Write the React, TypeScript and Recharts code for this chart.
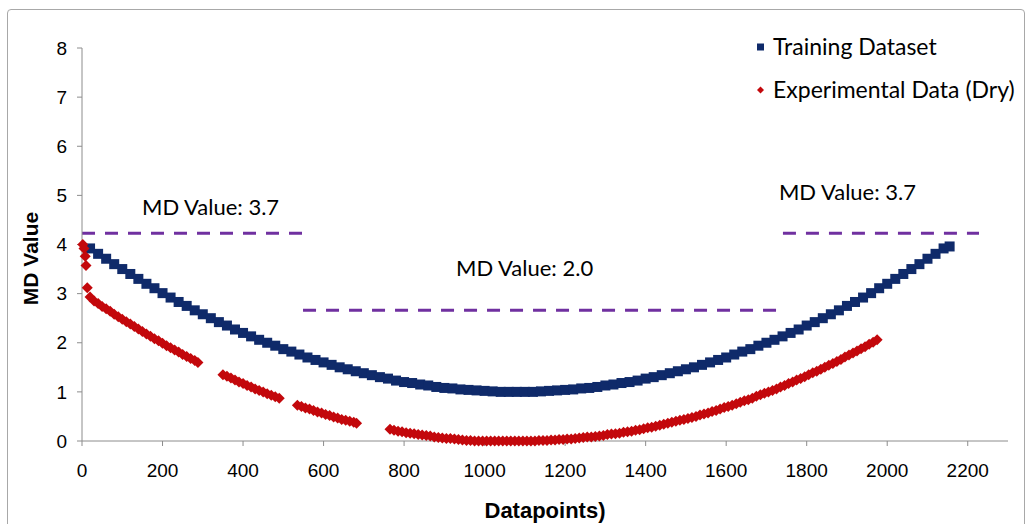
import { ScatterChart, Scatter, XAxis, YAxis, ReferenceLine } from "recharts"

const NAVY = "#0f2a6a"
const RED = "#c3080c"
const PURPLE = "#7030a0"
const AXIS = "#8c8c8c"

const xTicks = [0, 200, 400, 600, 800, 1000, 1200, 1400, 1600, 1800, 2000, 2200]
const yTicks = [0, 1, 2, 3, 4, 5, 6, 7, 8]

// Training Dataset, [datapoint, MD value]
const trainingPoints: [number, number][] = [
  [20, 3.92], [40, 3.81], [60, 3.71], [80, 3.6], [100, 3.5], [120, 3.4], [140, 3.3], [160, 3.2],
  [180, 3.11], [200, 3.01], [220, 2.92], [240, 2.83], [260, 2.75], [280, 2.66], [300, 2.58],
  [320, 2.5], [340, 2.42], [360, 2.35], [380, 2.27], [400, 2.2], [420, 2.13], [440, 2.06],
  [460, 2.0], [480, 1.94], [500, 1.87], [520, 1.82], [540, 1.76], [560, 1.7], [580, 1.65],
  [600, 1.6], [620, 1.55], [640, 1.5], [660, 1.46], [680, 1.42], [700, 1.38], [720, 1.34],
  [740, 1.3], [760, 1.27], [780, 1.23], [800, 1.2], [820, 1.18], [840, 1.15], [860, 1.13],
  [880, 1.1], [900, 1.08], [920, 1.07], [940, 1.05], [960, 1.04], [980, 1.03], [1000, 1.02],
  [1020, 1.01], [1040, 1.0], [1060, 1.0], [1080, 1.0], [1100, 1.0], [1120, 1.0], [1140, 1.01],
  [1160, 1.02], [1180, 1.03], [1200, 1.04], [1220, 1.05], [1240, 1.07], [1260, 1.08],
  [1280, 1.1], [1300, 1.13], [1320, 1.15], [1340, 1.18], [1360, 1.2], [1380, 1.23], [1400, 1.27],
  [1420, 1.3], [1440, 1.34], [1460, 1.38], [1480, 1.42], [1500, 1.46], [1520, 1.5], [1540, 1.55],
  [1560, 1.6], [1580, 1.65], [1600, 1.7], [1620, 1.76], [1640, 1.82], [1660, 1.87], [1680, 1.94],
  [1700, 2.0], [1720, 2.06], [1740, 2.13], [1760, 2.2], [1780, 2.27], [1800, 2.35], [1820, 2.42],
  [1840, 2.5], [1860, 2.58], [1880, 2.66], [1900, 2.75], [1920, 2.83], [1940, 2.92], [1960, 3.01],
  [1980, 3.11], [2000, 3.2], [2020, 3.3], [2040, 3.4], [2060, 3.5], [2080, 3.6], [2100, 3.71],
  [2120, 3.81], [2140, 3.92], [2155, 3.96],
]

// Experimental Data (Dry)
const experimentalPoints: [number, number][] = [
  [2, 4.0], [5, 3.92], [8, 3.76], [10, 3.57], [13, 3.12], [20, 2.93],
  [30, 2.85], [40, 2.8], [50, 2.74], [60, 2.69], [70, 2.64], [80, 2.58], [90, 2.53], [100, 2.48],
  [110, 2.43], [120, 2.38], [130, 2.33], [140, 2.28], [150, 2.23], [160, 2.18], [170, 2.13],
  [180, 2.08], [190, 2.04], [200, 1.99], [210, 1.94], [220, 1.9], [230, 1.85], [240, 1.81],
  [250, 1.76], [260, 1.72], [270, 1.68], [280, 1.64], [288, 1.6],
  [350, 1.35], [360, 1.32], [370, 1.28], [380, 1.24], [390, 1.2], [400, 1.17], [410, 1.13],
  [420, 1.1], [430, 1.06], [440, 1.03], [450, 1.0], [460, 0.96], [470, 0.93], [480, 0.9], [490, 0.87],
  [535, 0.73], [545, 0.7], [555, 0.67], [565, 0.65], [575, 0.62], [585, 0.59], [595, 0.57],
  [605, 0.54], [615, 0.52], [625, 0.49], [635, 0.47], [645, 0.44], [655, 0.42], [665, 0.4],
  [675, 0.38], [682, 0.36],
  [765, 0.24], [775, 0.22], [785, 0.2], [795, 0.19], [805, 0.17], [815, 0.16], [825, 0.15],
  [835, 0.13], [845, 0.12], [855, 0.11], [865, 0.1], [875, 0.08], [885, 0.07], [895, 0.06],
  [905, 0.05], [915, 0.05], [925, 0.04], [935, 0.03], [945, 0.02], [955, 0.01], [965, 0.01],
  [975, 0], [985, 0], [995, 0], [1005, 0], [1015, 0], [1025, 0], [1035, 0], [1045, 0], [1055, 0],
  [1065, 0], [1075, 0], [1085, 0], [1095, 0], [1105, 0], [1115, 0], [1125, 0], [1135, 0.01],
  [1145, 0.01], [1155, 0.01], [1165, 0.02], [1175, 0.02], [1185, 0.03], [1195, 0.03], [1205, 0.04],
  [1215, 0.04], [1225, 0.05], [1235, 0.06], [1245, 0.07], [1255, 0.08], [1265, 0.08], [1275, 0.09],
  [1285, 0.1], [1295, 0.11], [1305, 0.13], [1315, 0.14], [1325, 0.15], [1335, 0.16], [1345, 0.18],
  [1355, 0.19], [1365, 0.2], [1375, 0.22], [1385, 0.23], [1395, 0.25], [1405, 0.27], [1415, 0.28],
  [1425, 0.3], [1435, 0.32], [1445, 0.34], [1455, 0.36], [1465, 0.38], [1475, 0.4], [1485, 0.42],
  [1495, 0.44], [1505, 0.46], [1515, 0.48], [1525, 0.5], [1535, 0.53], [1545, 0.55], [1555, 0.57],
  [1565, 0.6], [1575, 0.62], [1585, 0.65], [1595, 0.68], [1605, 0.7], [1615, 0.73], [1625, 0.76],
  [1635, 0.79], [1645, 0.82], [1655, 0.84], [1665, 0.87], [1675, 0.91], [1685, 0.94], [1695, 0.97],
  [1705, 1.0], [1715, 1.03], [1725, 1.06], [1735, 1.1], [1745, 1.13], [1755, 1.17], [1765, 1.2],
  [1775, 1.24], [1785, 1.27], [1795, 1.31], [1805, 1.35], [1815, 1.39], [1825, 1.42], [1835, 1.46],
  [1845, 1.5], [1855, 1.54], [1865, 1.58], [1875, 1.62], [1885, 1.66], [1895, 1.71], [1905, 1.75],
  [1915, 1.79], [1925, 1.83], [1935, 1.88], [1945, 1.92], [1955, 1.97], [1965, 2.01], [1975, 2.06],
]

// MD threshold segments: label, start, end, value on the chart
const mdLabels = ["MD Value: 3.7", "MD Value: 2.0", "MD Value: 3.7"]
const mdFrom = [0, 549, 1741]
const mdTo = [551, 1732, 2228]
const mdY = [4.23, 2.66, 4.23]
const mdLabelOffset: [number, number][] = [[60, -18], [153, -34], [-4, -33]]

const legendNames = ["Training Dataset", "Experimental Data (Dry)"]

const trainingData = trainingPoints.map(([x, y]) => ({ x, y }))
const experimentalData = experimentalPoints.map(([x, y]) => ({ x, y }))

const SquareDot = (p: any) => (
  <rect x={p.cx - 5} y={p.cy - 5} width={10} height={10} fill={NAVY} />
)

const DiamondDot = (p: any) => (
  <polygon
    points={`${p.cx},${p.cy - 5.5} ${p.cx + 5.5},${p.cy} ${p.cx},${p.cy + 5.5} ${p.cx - 5.5},${p.cy}`}
    fill={RED}
  />
)

const labelFont = "Lato, 'Open Sans', sans-serif"
const axisFont = "'Liberation Sans', Arial, sans-serif"

function mdLabel(text: string, dx: number, dy: number) {
  return (props: any) => {
    const vb = props.viewBox || {}
    return (
      <text x={vb.x + dx} y={vb.y + dy} fontFamily={labelFont} fontSize={22} fill="#000">
        {text}
      </text>
    )
  }
}

function yLabel(props: any) {
  const vb = props.viewBox || {}
  const cx = vb.x + 30
  const cy = vb.y + vb.height / 2 + 14
  return (
    <text
      x={cx}
      y={cy}
      transform={`rotate(-90, ${cx}, ${cy})`}
      textAnchor="middle"
      dominantBaseline="central"
      fontFamily={axisFont}
      fontWeight="bold"
      fontSize={21}
      fill="#000"
    >
      MD Value
    </text>
  )
}

function ChartLegend() {
  return (
    <div style={{ position: "absolute", left: 753, top: 25, fontFamily: labelFont, fontSize: 23, color: "#000", lineHeight: "43px", whiteSpace: "nowrap" }}>
      <div style={{ display: "flex", alignItems: "center", height: 43 }}>
        <svg width={20} height={10}>
          <rect x={4} y={1.5} width={7} height={7} fill={NAVY} />
        </svg>
        <span>{legendNames[0]}</span>
      </div>
      <div style={{ display: "flex", alignItems: "center", height: 43 }}>
        <svg width={20} height={10}>
          <polygon points="7.5,1.5 11,5 7.5,8.5 4,5" fill={RED} />
        </svg>
        <span>{legendNames[1]}</span>
      </div>
    </div>
  )
}

export default function App() {
  return (
    <div style={{ position: "absolute", left: 0, top: 0, width: 1033, height: 524, background: "#fff", overflow: "hidden" }}>
      <div
        style={{
          position: "absolute",
          left: 7,
          top: 9,
          width: 1016,
          height: 540,
          border: "1px solid #a8a8a8",
          borderRadius: 4,
        }}
      />
      <div style={{ position: "absolute", left: 0, top: 0 }}>
        <ScatterChart width={1033} height={524} margin={{ top: 48, right: 25, bottom: 0, left: 0 }}>
          <XAxis
            type="number"
            dataKey="x"
            domain={[0, 2300]}
            ticks={xTicks}
            interval={0}
            height={83}
            stroke={AXIS}
            tickSize={5}
            tickMargin={18}
            tick={{ fill: "#000", fontSize: 19, fontFamily: axisFont }}
            label={{
              value: "Datapoints)",
              position: "insideBottom",
              offset: 6,
              fill: "#000",
              fontSize: 22,
              fontWeight: "bold",
              fontFamily: axisFont,
            }}
          />
          <YAxis
            type="number"
            dataKey="y"
            domain={[0, 8]}
            ticks={yTicks}
            interval={0}
            width={82}
            stroke={AXIS}
            tickSize={5}
            tickMargin={10}
            tick={{ fill: "#000", fontSize: 19, fontFamily: axisFont }}
            label={yLabel}
          />
          {mdLabels.map((text, i) => (
            <ReferenceLine
              key={i}
              segment={[{ x: mdFrom[i], y: mdY[i] }, { x: mdTo[i], y: mdY[i] }]}
              stroke={PURPLE}
              strokeWidth={3}
              strokeDasharray="13 10"
              label={mdLabel(text, mdLabelOffset[i][0], mdLabelOffset[i][1])}
              ifOverflow="visible"
            />
          ))}
          <Scatter name={legendNames[0]} data={trainingData} shape={SquareDot} isAnimationActive={false} />
          <Scatter name={legendNames[1]} data={experimentalData} shape={DiamondDot} isAnimationActive={false} />
        </ScatterChart>
      </div>
      <ChartLegend />
    </div>
  )
}
